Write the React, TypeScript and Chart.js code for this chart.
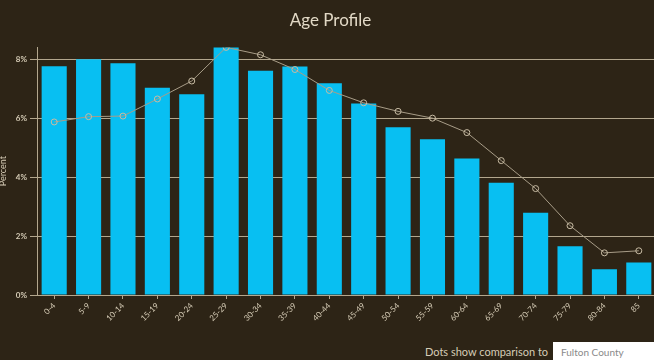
import React, { useEffect, useRef } from "react";
import { Chart, registerables } from "chart.js";

Chart.register(...registerables);

const categories = ["0-4", "5-9", "10-14", "15-19", "20-24", "25-29", "30-34", "35-39", "40-44", "45-49", "50-54", "55-59", "60-64", "65-69", "70-74", "75-79", "80-84", "85"];
const areaValues = [7.76, 8.0, 7.86, 7.03, 6.81, 8.42, 7.61, 7.75, 7.18, 6.5, 5.69, 5.28, 4.63, 3.81, 2.79, 1.65, 0.87, 1.1];
const comparisonValues = [5.87, 6.05, 6.07, 6.65, 7.26, 8.4, 8.15, 7.65, 6.94, 6.52, 6.23, 6.0, 5.51, 4.56, 3.61, 2.35, 1.43, 1.5];
const yTickValues = [0, 2, 4, 6, 8];

const BG = "#2d2416";
const INK = "#d6ccb6";
const GRID = "#b3a78e";
const FONT = "Lato, 'Open Sans', sans-serif";

export default function App() {
  const ref = useRef<HTMLCanvasElement | null>(null);

  useEffect(() => {
    document.body.style.margin = "0";
    const ctx = ref.current!;
    const chart = new Chart(ctx, {
      data: {
        labels: categories,
        datasets: [
          {
            type: "line",
            label: "Fulton County",
            data: comparisonValues,
            borderColor: "#a89d88",
            borderWidth: 1,
            pointRadius: 3,
            pointBorderWidth: 1,
            pointBorderColor: "#c8bca4",
            pointBackgroundColor: "rgba(0,0,0,0)",
            tension: 0,
            order: 0,
          },
          {
            type: "bar",
            label: "Area",
            data: areaValues,
            backgroundColor: "#08bff2",
            barPercentage: 0.73,
            categoryPercentage: 1,
            order: 1,
          },
        ],
      },
      options: {
        animation: false,
        responsive: false,
        maintainAspectRatio: false,
        layout: { padding: { left: 0, right: 0, top: 0, bottom: 0 } },
        plugins: {
          legend: { display: false },
          tooltip: { enabled: false },
          title: {
            display: true,
            text: "Age Profile",
            color: "#e2d9c6",
            font: { family: FONT, size: 17, weight: "normal" },
            padding: { top: 10, bottom: 17 },
          },
        },
        scales: {
          x: {
            grid: {
              offset: false,
              drawOnChartArea: false,
              drawTicks: true,
              tickLength: 4,
              color: GRID,
            },
            border: { display: true, color: GRID, width: 1 },
            ticks: {
              color: INK,
              font: { family: FONT, size: 8 },
              minRotation: 45,
              maxRotation: 45,
              autoSkip: false,
              padding: 2,
            },
            afterFit: (scale: any) => {
              scale.height = 45;
            },
          },
          y: {
            min: 0,
            max: 8.4,
            grid: {
              color: GRID,
              lineWidth: 1,
              tickLength: 7,
              drawTicks: true,
            },
            border: { display: true, color: GRID, width: 1 },
            ticks: {
              color: INK,
              font: { family: FONT, size: 8, weight: "bold" },
              stepSize: 2,
              padding: 3,
              callback: (v: any) => `${v}%`,
            },
            afterBuildTicks: (scale: any) => {
              scale.ticks = yTickValues.map((v) => ({ value: v }));
            },
            afterFit: (scale: any) => {
              scale.width = 37;
            },
            title: {
              display: true,
              text: "Percent",
              color: INK,
              font: { family: FONT, size: 9 },
              padding: { top: -2, bottom: 0 },
            },
          },
        },
      },
    } as any);
    return () => chart.destroy();
  }, []);

  return (
    <div
      style={{
        position: "relative",
        width: 654,
        height: 360,
        overflow: "hidden",
        background: BG,
        fontFamily: FONT,
      }}
    >
      <canvas ref={ref} width={661} height={340} style={{ position: "absolute", left: 0, top: 0 }} />
      <div
        style={{
          position: "absolute",
          left: 425,
          top: 345,
          fontSize: 11,
          color: INK,
          lineHeight: "14px",
          whiteSpace: "nowrap",
        }}
      >
        Dots show comparison to
      </div>
      <div
        style={{
          position: "absolute",
          left: 553,
          top: 342,
          width: 110,
          height: 22,
          background: "#ffffff",
          color: "#8a8a8a",
          fontSize: 10,
          lineHeight: "20px",
          paddingLeft: 8,
          boxSizing: "border-box",
          whiteSpace: "nowrap",
        }}
      >
        Fulton County
      </div>
    </div>
  );
}
